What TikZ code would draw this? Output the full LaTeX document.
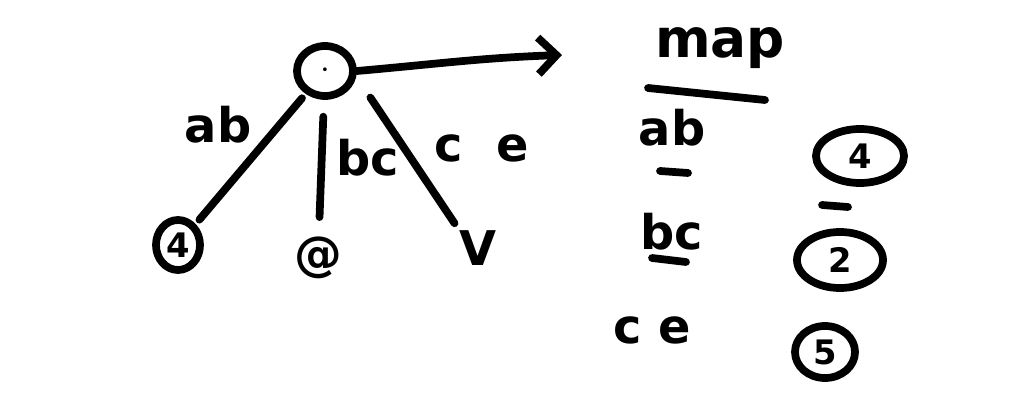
\documentclass[tikz,border=0pt]{standalone}
\usepackage{fontspec}
\setmainfont{DejaVu Sans}
\usetikzlibrary{shapes.geometric,arrows.meta}
\tikzset{
	pen/.style={line width=5.5pt, line cap=round, line join=round},
	hand/.style={font=\fontsize{34}{34}\selectfont\bfseries, inner sep=0pt},
	blob/.style={pen, draw, ellipse, inner sep=0pt, font=\fontsize{24}{24}\selectfont\bfseries},
}
\begin{document}
\begin{tikzpicture}[x=0.025cm, y=-0.025cm]
		\useasboundingbox[fill=white] (0,0) rectangle (1017,412);
		% tree
		\node [blob, minimum width=1.4cm, minimum height=1.25cm] (root) at (325,71) {$\cdot$};
		\node [blob, minimum width=1.1cm, minimum height=1.25cm] (leafab) at (178,245) {4};
		\node [hand] (leafbc) at (318,258) {@};
		\node [hand] (leafce) at (478,248) {V};
		\draw [pen, shorten <=4pt, shorten >=4pt] (root) -- (leafab);
		\draw [pen, shorten <=12pt, shorten >=14pt] (root) -- (leafbc);
		\draw [pen, shorten <=18pt, shorten >=6pt] (root.-10) -- (leafce.north west);
		\node [hand] (lab) at (218,125) {ab};
		\node [hand] (lbc) at (368,158) {bc};
		\node [hand] (lce) at (482,148) {c\ \ e};
		% arrow to the map
		\coordinate (mapend) at (562,55);
		\draw [pen, -{Straight Barb[length=13pt, width=26pt]}] (root.east) to [out=5, in=182] (mapend);
		% map table
		\node [hand, font=\fontsize{38}{38}\selectfont\bfseries] (map) at (720,48) {map};
		\draw [pen] (648,88) -- (765,100);
		\node [hand] (kab) at (672,128) {ab};
		\draw [pen] (660,171) -- (688,173);
		\node [hand] (kbc) at (672,232) {bc};
		\draw [pen] (652,258) -- (686,262);
		\node [hand] (kce) at (652,330) {c\ e};
		\node [blob, minimum width=2.2cm, minimum height=1.35cm] (v4) at (860,156) {4};
		\draw [pen] (822,205) -- (848,207);
		\node [blob, minimum width=2.15cm, minimum height=1.4cm] (v2) at (840,260) {2};
		\node [blob, minimum width=1.5cm, minimum height=1.3cm] (v5) at (825,352) {5};
\end{tikzpicture}
\end{document}
